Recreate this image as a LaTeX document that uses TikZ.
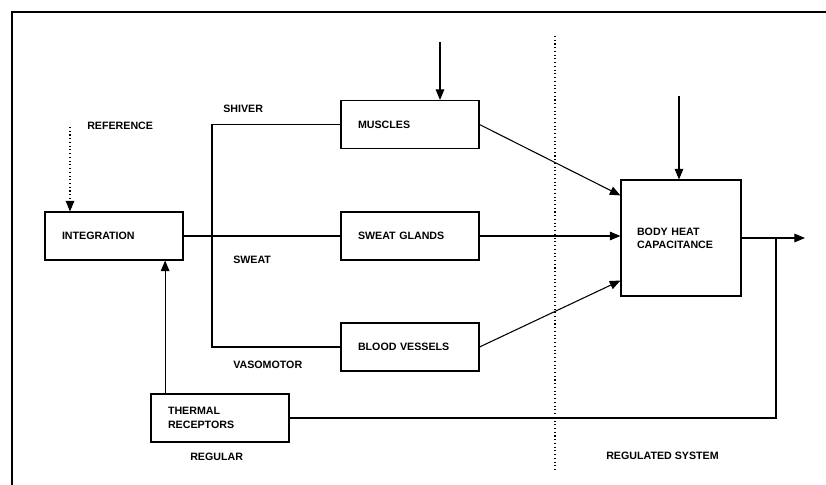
\documentclass[tikz,border=0pt]{standalone}
\usepackage{fontspec}
\setsansfont{Liberation Sans}
\usetikzlibrary{arrows.meta, positioning}

\begin{document}
\begin{tikzpicture}[
    x=0.75pt, y=-0.75pt,
    every node/.style={font=\sffamily\bfseries\fontsize{8}{10}\selectfont},
    block/.style={rectangle, draw, line width=0.8pt, inner xsep=12.75pt, text width=78pt, align=left, minimum height=36pt},
    tag/.style={anchor=west, inner sep=0pt},
    line/.style={line width=0.8pt},
    arrow/.style={line, -{Triangle[length=8pt, width=6.5pt]}},
    dotarrow/.style={arrow, dotted},
    divider/.style={line width=0.8pt, dotted}
]
\useasboundingbox (0,0) rectangle (826,485);
\draw[line width=1.6pt] (12,485) -- (12,12) -- (826,12);

% blocks
\node[block] (integ) at (114,236) {INTEGRATION};
\node[block] (muscles) at (410,124.5) {MUSCLES};
\node[block] (sweat) at (410,236) {SWEAT GLANDS};
\node[block] (blood) at (410,347) {BLOOD VESSELS};
\node[block, text width=66pt, inner xsep=12pt, minimum height=87pt] (body) at (681,238) {BODY HEAT\\CAPACITANCE};
\node[block] (thermal) at (220,418) {THERMAL\\RECEPTORS};

% labels
\node[tag] (ref) at (87,126) {REFERENCE};
\node[tag] (shiver) at (223,109) {SHIVER};
\node[tag] (sweatlbl) at (233,260) {SWEAT};
\node[tag] (vaso) at (233,365) {VASOMOTOR};
\node[tag] (regular) at (190,457) {REGULAR};
\node[tag] (regsys) at (606,456) {REGULATED SYSTEM};

\coordinate (refin) at (70,127);
\coordinate (musin) at (440,42);
\coordinate (bodyin) at (679,96);
\coordinate (split) at (212,236);
\coordinate (out) at (805,238);
\coordinate (fb) at (776,238);
\coordinate (tup) at ([xshift=11pt]thermal.north west);

\draw[divider] (555,36) -- (555,472);

\draw[dotarrow] (refin) -- (refin |- integ.north);
\draw[line] (integ.east) -- (sweat.west);
\draw[line] (muscles.west) -| (split) |- (blood.west);
\draw[arrow] (musin) -- (musin |- muscles.north);
\draw[arrow] (bodyin) -- (bodyin |- body.north);
\draw[arrow] (muscles.east) -- ([yshift=-12pt]body.north west);
\draw[arrow] (sweat.east) -- (sweat.east -| body.west);
\draw[arrow] (blood.east) -- ([yshift=12pt]body.south west);
\draw[arrow] (body.east) -- (out);
\draw[line] (fb) |- (thermal.east);
\draw[arrow] (tup) -- (tup |- integ.south);
\end{tikzpicture}
\end{document}
